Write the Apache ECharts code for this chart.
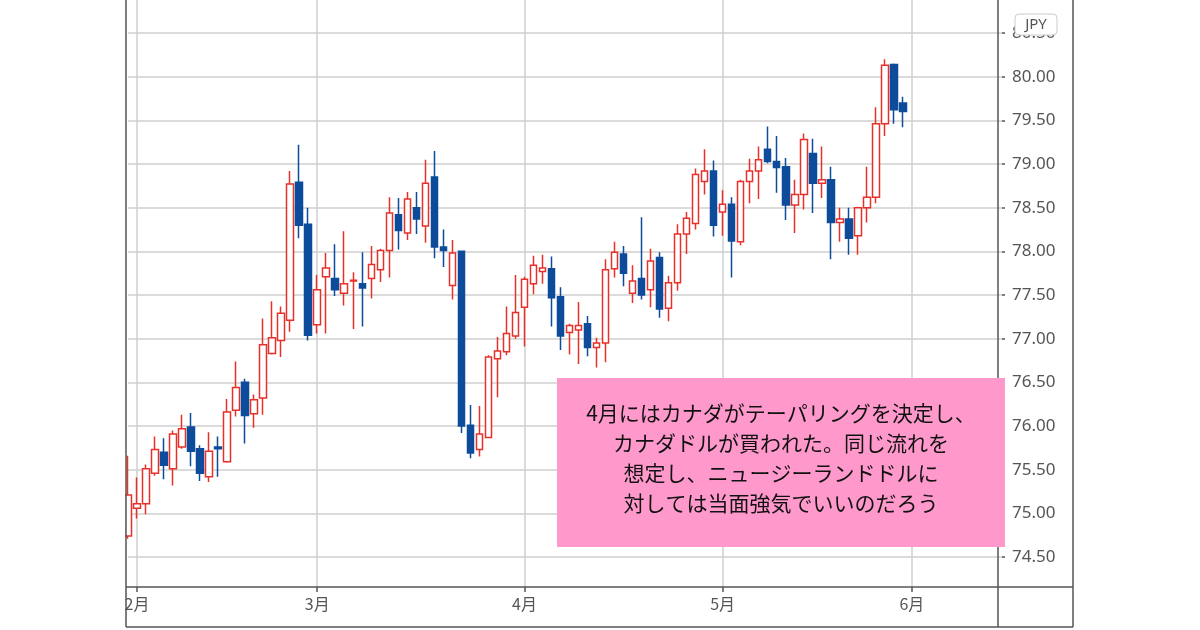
<!DOCTYPE html>
<html>
<head>
<meta charset="utf-8">
<script src="https://cdn.jsdelivr.net/npm/echarts@6/dist/echarts.min.js"></script>
<style>
html,body{margin:0;padding:0;background:#fff;}
#chart{width:1200px;height:630px;}
</style>
</head>
<body>
<div id="chart"></div>
<script>
// Trading days (category axis), including empty days after the last candle
var dates = [
'2021-01-29',
'2021-02-01','2021-02-02','2021-02-03','2021-02-04','2021-02-05',
'2021-02-08','2021-02-09','2021-02-10','2021-02-11','2021-02-12',
'2021-02-15','2021-02-16','2021-02-17','2021-02-18','2021-02-19',
'2021-02-22','2021-02-23','2021-02-24','2021-02-25','2021-02-26',
'2021-03-01','2021-03-02','2021-03-03','2021-03-04','2021-03-05',
'2021-03-08','2021-03-09','2021-03-10','2021-03-11','2021-03-12',
'2021-03-15','2021-03-16','2021-03-17','2021-03-18','2021-03-19',
'2021-03-22','2021-03-23','2021-03-24','2021-03-25','2021-03-26',
'2021-03-29','2021-03-30','2021-03-31',
'2021-04-01','2021-04-02',
'2021-04-05','2021-04-06','2021-04-07','2021-04-08','2021-04-09',
'2021-04-12','2021-04-13','2021-04-14','2021-04-15','2021-04-16',
'2021-04-19','2021-04-20','2021-04-21','2021-04-22','2021-04-23',
'2021-04-26','2021-04-27','2021-04-28','2021-04-29','2021-04-30',
'2021-05-03','2021-05-04','2021-05-05','2021-05-06','2021-05-07',
'2021-05-10','2021-05-11','2021-05-12','2021-05-13','2021-05-14',
'2021-05-17','2021-05-18','2021-05-19','2021-05-20','2021-05-21',
'2021-05-24','2021-05-25','2021-05-26','2021-05-27','2021-05-28',
'2021-05-31',
'2021-06-01','2021-06-02','2021-06-03','2021-06-04',
'2021-06-07','2021-06-08','2021-06-09','2021-06-10','2021-06-11',
'2021-06-14','2021-06-15'
];

var openVals = [
74.74,
75.06,75.11,75.46,75.70,75.51,
75.76,75.99,75.74,75.42,75.76,
75.59,76.18,76.50,76.14,76.32,
76.83,76.98,77.21,78.79,78.31,
77.16,77.71,77.69,77.52,77.66,
77.63,77.69,77.79,78.01,78.42,
78.21,78.50,78.29,78.85,78.05,
77.61,78.00,76.01,75.73,75.87,
76.77,76.85,77.03,
77.36,77.63,
77.77,77.80,77.48,77.07,77.10,
77.17,76.90,76.95,77.80,77.97,
77.52,77.69,77.56,77.93,77.35,
77.64,78.20,78.32,78.80,78.92,
78.45,78.54,78.11,78.80,78.92,
79.17,79.03,78.97,78.53,78.65,
79.12,78.78,78.82,78.33,78.37,
78.18,78.50,78.62,79.46,80.14,
79.70
];
var closeVals = [
75.21,
75.11,75.51,75.73,75.55,75.91,
75.97,75.71,75.46,75.71,75.74,
76.16,76.44,76.12,76.30,76.93,
77.01,77.29,78.77,78.30,77.04,
77.56,77.81,77.56,77.63,77.67,
77.58,77.85,78.01,78.44,78.24,
78.60,78.37,78.78,78.05,78.01,
77.98,76.00,75.69,75.91,76.79,
76.86,77.06,77.30,
77.68,77.84,
77.81,77.47,77.03,77.15,77.15,
76.90,76.95,77.79,77.99,77.75,
77.66,77.50,77.89,77.34,77.64,
78.20,78.38,78.88,78.92,78.30,
78.54,78.12,78.80,78.92,79.05,
79.03,78.96,78.53,78.65,79.28,
78.78,78.82,78.33,78.37,78.15,
78.50,78.62,79.46,80.13,79.62,
79.60
];
var lowVals = [
74.71,
74.94,74.99,75.43,75.39,75.32,
75.74,75.54,75.37,75.36,75.42,
75.58,76.11,75.80,75.98,76.13,
76.82,76.79,77.08,78.15,76.98,
77.06,77.06,77.49,77.38,77.11,
77.14,77.46,77.65,77.70,78.02,
78.13,78.20,78.10,77.92,77.82,
77.45,75.92,75.63,75.65,75.86,
76.33,76.81,77.00,
76.91,77.51,
77.63,77.14,76.87,76.82,76.71,
76.80,76.67,76.73,77.70,77.60,
77.41,77.45,77.36,77.24,77.20,
77.55,77.97,78.25,78.65,78.17,
78.18,77.70,78.07,78.55,78.60,
79.01,78.67,78.36,78.21,78.48,
78.44,78.61,77.91,78.11,77.96,
77.96,78.33,78.55,79.32,79.46,
79.42
];
var highVals = [
75.66,
75.41,75.56,75.88,75.86,75.95,
76.13,76.15,75.78,75.93,75.88,
76.31,76.74,76.54,76.36,77.23,
77.43,77.37,78.92,79.22,78.50,
77.73,77.98,78.08,78.23,77.76,
77.99,78.06,78.03,78.62,78.61,
78.68,78.68,79.05,79.15,78.25,
78.13,78.00,76.24,76.23,76.81,
77.02,77.37,77.73,
77.71,77.95,
77.96,77.94,77.59,77.17,77.42,
77.26,77.01,77.91,78.11,78.06,
77.84,78.39,78.03,77.99,77.72,
78.31,78.45,78.95,79.17,79.04,
78.70,78.62,78.82,79.06,79.20,
79.43,79.32,79.07,78.82,79.35,
79.29,79.20,78.97,78.50,78.50,
78.51,78.97,79.65,80.20,80.15,
79.77
];

var priceTicks = [74.5,75.0,75.5,76.0,76.5,77.0,77.5,78.0,78.5,79.0,79.5,80.0,80.5];
var noteLines = [
'4月にはカナダがテーパリングを決定し、',
'カナダドルが買われた。同じ流れを',
'想定し、ニュージーランドドルに',
'対しては当面強気でいいのだろう'
];
var currencyLabel = 'JPY';

var candleData = dates.map(function(d, i){
  if (i < openVals.length) return [openVals[i], closeVals[i], lowVals[i], highVals[i]];
  return '-';
});

function isMonthStart(i){
  if (i === 0) return false;
  return dates[i].slice(5,7) !== dates[i-1].slice(5,7);
}

var RED = '#e8302a', BLUE = '#0d4b9b', FRAME = '#555555', GRID = '#cfcfcf';

var chart = echarts.init(document.getElementById('chart'));
var option = {
  animation: false,
  backgroundColor: '#ffffff',
  grid: { left: 128, right: 198, top: 0, bottom: 43 },
  xAxis: {
    type: 'category',
    data: dates,
    boundaryGap: false,
    axisLine: { show: false },
    axisTick: { show: true, interval: function(i){ return isMonthStart(i); }, length: 5, lineStyle: { color: FRAME, width: 1.5 } },
    axisLabel: {
      interval: function(i){ return isMonthStart(i); },
      formatter: function(v){ return parseInt(v.slice(5,7), 10) + '月'; },
      color: '#555', fontSize: 16, fontFamily: 'Noto Sans CJK JP', margin: 9
    },
    splitLine: { show: true, interval: function(i){ return isMonthStart(i); }, lineStyle: { color: GRID, width: 1.5 } }
  },
  yAxis: {
    type: 'value',
    position: 'right',
    min: 74.157,
    max: 80.878,
    scale: true,
    axisLine: { show: false },
    splitLine: { show: false },
    axisTick: { show: true, customValues: priceTicks, length: 3, lineStyle: { color: FRAME, width: 1.5 } },
    axisLabel: {
      customValues: priceTicks,
      formatter: function(v){ return Number(v).toFixed(2); },
      color: '#555', fontSize: 17, fontFamily: 'Noto Sans', margin: 10
    }
  },
  series: [{
    type: 'candlestick',
    data: candleData,
    barWidth: 7,
    clip: false,
    itemStyle: {
      color: '#ffffff',
      color0: BLUE,
      borderColor: RED,
      borderColor0: BLUE,
      borderWidth: 1.5
    },
    markLine: {
      silent: true,
      symbol: ['none','none'],
      label: { show: false },
      z: 1,
      lineStyle: { color: GRID, width: 1.5, type: 'solid' },
      data: priceTicks.map(function(v){ return { yAxis: v }; })
    }
  }],
  graphic: [
    { type: 'rect', z: 50, shape: { x: 0, y: 0, width: 125, height: 630 }, style: { fill: '#ffffff' } },
    { type: 'line', z: 60, shape: { x1: 126, y1: -2, x2: 126, y2: 627 }, style: { stroke: FRAME, lineWidth: 1.5 } },
    { type: 'line', z: 60, shape: { x1: 998, y1: -2, x2: 998, y2: 627 }, style: { stroke: FRAME, lineWidth: 1.5 } },
    { type: 'line', z: 60, shape: { x1: 1073, y1: -2, x2: 1073, y2: 627 }, style: { stroke: FRAME, lineWidth: 1.5 } },
    { type: 'line', z: 60, shape: { x1: 126, y1: 587, x2: 1073, y2: 587 }, style: { stroke: FRAME, lineWidth: 1.5 } },
    { type: 'line', z: 60, shape: { x1: 126, y1: 627, x2: 1073, y2: 627 }, style: { stroke: FRAME, lineWidth: 1.5 } },
    { type: 'rect', z: 70, shape: { x: 1015, y: 14, width: 42, height: 21, r: 4 }, style: { fill: '#ffffff', stroke: '#cccccc', lineWidth: 1 } },
    { type: 'text', z: 71, x: 1036, y: 25, style: { text: currencyLabel, fill: '#555', font: '15px "Noto Sans"', textAlign: 'center', textVerticalAlign: 'middle' } },
    { type: 'rect', z: 80, shape: { x: 557, y: 378, width: 448, height: 169 }, style: { fill: '#ff99cc' } },
    { type: 'text', z: 81, x: 781, y: 458, style: { text: noteLines.join('\n'), fill: '#111', font: '21px "Noto Sans CJK JP"', lineHeight: 30, textAlign: 'center', textVerticalAlign: 'middle' } }
  ]
};
chart.setOption(option);
</script>
</body>
</html>
